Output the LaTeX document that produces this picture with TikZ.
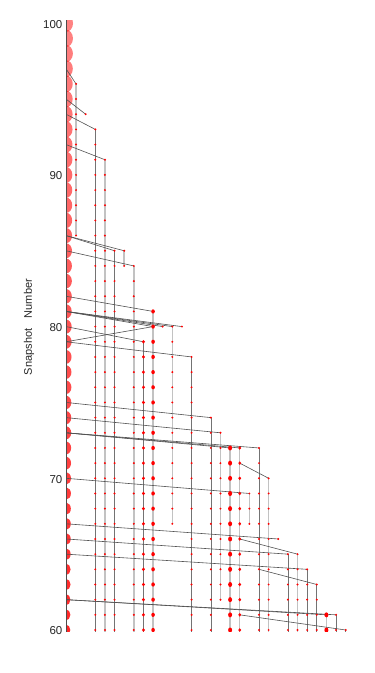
\documentclass[tikz,border=0pt]{standalone}
\usepackage{fontspec}
\setmainfont{Liberation Sans}
\tikzset{
  lightln/.style={draw=black!24, line width=1.5bp},
  darkln/.style={draw=black!55, line width=0.7bp},
  mergeln/.style={draw=black!68, line width=0.6bp},
  axisln/.style={draw=black!70, line width=0.8bp},
  ticklbl/.style={anchor=east, inner sep=0pt, text=black!85, font=\fontsize{11.5bp}{13bp}\selectfont},
  axlbl/.style={rotate=90, inner sep=0pt, text=black!85, font=\fontsize{11bp}{13bp}\selectfont}
}
% k, from snapshot, to snapshot
\newcommand\mkbranch[3]{\foreach \s in {#2,...,#3}{\coordinate (b#1-\s) at ({66.4+9.63*#1},{630-(\s-60)*15.17});}}
% k, from, to, line style
\newcommand\brline[4]{\draw[#4] (b#1-#2) -- (b#1-#3);}
% k, from, to, x radius, y radius
\newcommand\brdots[5]{\foreach \s in {#2,...,#3}{\fill[red] (b#1-\s) ellipse [x radius=#4bp, y radius=#5bp];}}
\begin{document}
\begin{tikzpicture}[x=1bp,y=-1bp]
\useasboundingbox (0,0) rectangle (374,673);
% trunk coordinates
\foreach \s in {60,...,100}{\coordinate (t\s) at (66,{630-(\s-60)*15.17});}
% branch coordinates
\mkbranch{1}{86}{96}
\mkbranch{2}{94}{94}
\mkbranch{3}{59}{93}
\mkbranch{4}{59}{91}
\mkbranch{5}{59}{85}
\mkbranch{6}{84}{85}
\mkbranch{7}{59}{84}
\mkbranch{8}{59}{79}
\mkbranch{9}{59}{81}
\mkbranch{10}{80}{80}
\mkbranch{11}{67}{80}
\mkbranch{12}{80}{80}
\mkbranch{13}{59}{78}
\mkbranch{15}{59}{74}
\mkbranch{16}{62}{73}
\mkbranch{17}{59}{72}
\mkbranch{18}{59}{72}
\mkbranch{19}{67}{69}
\mkbranch{20}{59}{72}
\mkbranch{21}{59}{70}
\mkbranch{22}{66}{66}
\mkbranch{23}{59}{65}
\mkbranch{24}{59}{65}
\mkbranch{25}{59}{64}
\mkbranch{26}{59}{63}
\mkbranch{27}{59}{61}
\mkbranch{28}{59}{61}
\mkbranch{29}{59}{60}
% tick labels
\foreach \s in {60,70,80,90,100}{\node[ticklbl] (lbl\s) at (62.5,{630-(\s-60)*15.17+1}) {\s};}
\node[axlbl] (ylabel) at (29,327) {Snapshot\hspace{10.5bp}Number};
\begin{scope}
\clip (66,20.5) rectangle (374,631.5);
% trunk symbols
\foreach \s in {60,...,100}{%
  \pgfmathsetmacro\trr{4.3+(\s-60)*0.068}%
  \pgfmathsetmacro\trry{1.25*\trr}%
  \pgfmathsetmacro\trop{0.85-(\s-60)*0.009}%
  \fill[red, opacity=\trop] (t\s) ellipse [x radius=\trr bp, y radius=\trry bp];}
% branch lines
\brline{1}{86}{96}{lightln}
\brline{3}{59}{93}{darkln}
\brline{4}{59}{91}{lightln}
\brline{5}{59}{85}{darkln}
\brline{6}{84}{85}{lightln}
\brline{7}{59}{84}{lightln}
\brline{8}{59}{79}{darkln}
\brline{9}{59}{81}{lightln}
\brline{11}{67}{80}{lightln}
\brline{13}{59}{78}{darkln}
\brline{15}{59}{74}{darkln}
\brline{16}{62}{73}{lightln}
\brline{17}{59}{72}{lightln}
\brline{18}{59}{72}{lightln}
\brline{19}{67}{69}{lightln}
\brline{20}{59}{72}{darkln}
\brline{21}{59}{70}{lightln}
\brline{23}{59}{65}{darkln}
\brline{24}{59}{65}{lightln}
\brline{25}{59}{64}{darkln}
\brline{26}{59}{63}{darkln}
\brline{27}{59}{61}{lightln}
\brline{28}{59}{61}{darkln}
\brline{29}{59}{60}{darkln}
% merger connectors
\draw[mergeln] (t97) -- (b1-96);
\draw[mergeln] (t95) -- (b2-94);
\draw[mergeln] (t94) -- (b3-93);
\draw[mergeln] (t92) -- (b4-91);
\draw[mergeln] (t86) -- (b5-85);
\draw[mergeln] (t86) -- (b6-85);
\draw[mergeln] (t85) -- (b7-84);
\draw[mergeln] (t80) -- (b8-79);
\draw[mergeln] (t82) -- (b9-81);
\draw[mergeln] (t79) -- (b9-80);
\draw[mergeln] (t81) -- (b9-80);
\draw[mergeln] (t81) -- (b10-80);
\draw[mergeln] (t81) -- (b11-80);
\draw[mergeln] (t81) -- (b12-80);
\draw[mergeln] (t79) -- (b13-78);
\draw[mergeln] (t75) -- (b15-74);
\draw[mergeln] (t74) -- (b16-73);
\draw[mergeln] (t73) -- (b17-72);
\draw[mergeln] (t73) -- (b18-72);
\draw[mergeln] (t73) -- (b20-72);
\draw[mergeln] (t70) -- (b19-69);
\draw[mergeln] (b18-71) -- (b21-70);
\draw[mergeln] (t67) -- (b22-66);
\draw[mergeln] (t66) -- (b23-65);
\draw[mergeln] (b18-66) -- (b24-65);
\draw[mergeln] (t65) -- (b25-64);
\draw[mergeln] (b20-64) -- (b26-63);
\draw[mergeln] (t62) -- (b27-61);
\draw[mergeln] (t62) -- (b28-61);
\draw[mergeln] (b18-61) -- (b29-60);
% branch dots
\brdots{1}{86}{96}{1.1}{1.1}
\brdots{2}{94}{94}{1.1}{1.1}
\brdots{3}{60}{93}{1.1}{1.1}
\brdots{4}{60}{91}{1.1}{1.1}
\brdots{5}{60}{85}{1.1}{1.1}
\brdots{6}{84}{85}{1.1}{1.1}
\brdots{7}{60}{84}{1.1}{1.1}
\brdots{8}{60}{79}{1.6}{1.8}
\brdots{9}{60}{81}{1.8}{2.1}
\brdots{10}{80}{80}{1.1}{1.1}
\brdots{11}{67}{80}{1.1}{1.1}
\brdots{12}{80}{80}{1.1}{1.1}
\brdots{13}{60}{78}{1.1}{1.1}
\brdots{15}{60}{74}{1.1}{1.1}
\brdots{16}{62}{73}{1.1}{1.1}
\brdots{17}{60}{72}{2.0}{2.5}
\brdots{18}{60}{72}{1.5}{1.8}
\brdots{19}{67}{69}{1.1}{1.1}
\brdots{20}{60}{72}{1.1}{1.1}
\brdots{21}{60}{70}{1.1}{1.1}
\brdots{22}{66}{66}{1.1}{1.1}
\brdots{23}{60}{65}{1.1}{1.1}
\brdots{24}{60}{65}{1.1}{1.1}
\brdots{25}{60}{64}{1.1}{1.1}
\brdots{26}{60}{63}{1.1}{1.1}
\brdots{27}{60}{61}{2.0}{2.5}
\brdots{28}{60}{61}{1.1}{1.1}
\brdots{29}{60}{60}{1.1}{1.1}
\end{scope}
% axis line
\draw[axisln] (66,20.5) coordinate (axtop) -- (66,631.5) coordinate (axbot);
\end{tikzpicture}
\end{document}
